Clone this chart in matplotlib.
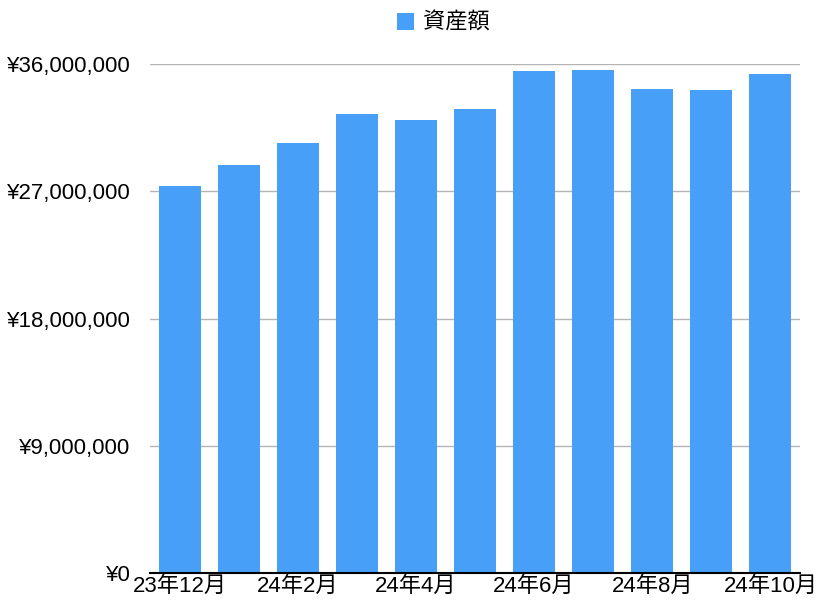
import matplotlib.pyplot as plt
import numpy as np

# monthly asset totals (yen)
months = ['23年12月', '24年1月', '24年2月', '24年3月', '24年4月', '24年5月',
          '24年6月', '24年7月', '24年8月', '24年9月', '24年10月']
assets = [27370000, 28850000, 30410000, 32460000, 32040000, 32820000,
          35500000, 35570000, 34230000, 34160000, 35290000]
y_ticks = [0, 9000000, 18000000, 27000000, 36000000]

plt.rcParams['font.family'] = ['Liberation Sans', 'Noto Sans CJK JP']

fig = plt.figure(figsize=(8.18, 6), dpi=100)
ax = fig.add_axes([150 / 818, 1 - 573 / 600, 650 / 818, (573 - 64) / 600])

x = np.arange(len(months))
ax.bar(x, assets, width=0.71, color='#479ff8', label='資産額', zorder=2)

ax.set_xlim(-0.5, len(months) - 0.5)
ax.set_ylim(0, 36000000)
ax.set_yticks(y_ticks)
ax.set_yticklabels(['¥{:,}'.format(v) for v in y_ticks], fontsize=16)
ax.set_xticks(x[::2])
ax.set_xticklabels(months[::2], fontsize=16)
ax.tick_params(axis='both', length=0)
ax.tick_params(axis='y', pad=14)
ax.tick_params(axis='x', pad=2)

ax.grid(axis='y', color='#b4b4b4', linewidth=1, zorder=0)
for s in ['top', 'right', 'left']:
    ax.spines[s].set_visible(False)
ax.spines['bottom'].set_linewidth(1.5)
ax.spines['bottom'].set_zorder(3)

fig.legend(loc='upper center', bbox_to_anchor=(0.542, 1.012), frameon=False,
           fontsize=16, handlelength=0.8, handleheight=0.8, handletextpad=0.4)

plt.savefig('out.png', dpi=100)
